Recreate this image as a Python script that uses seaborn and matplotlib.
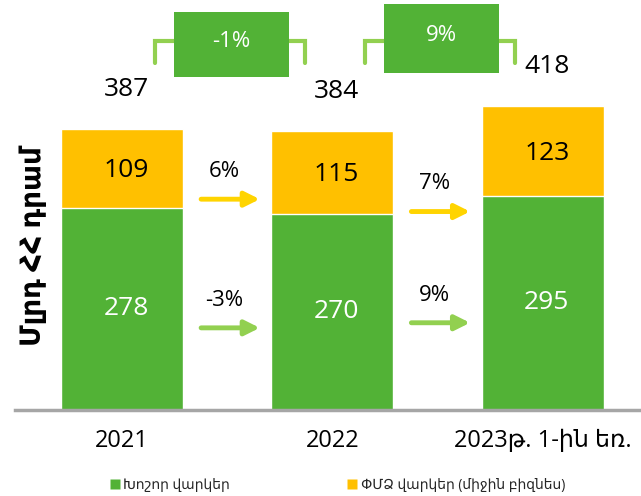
import matplotlib
matplotlib.use("Agg")
import matplotlib.pyplot as plt
from matplotlib.lines import Line2D
from matplotlib.patches import Rectangle
import seaborn as sns

# data (billion AMD)
years = ["2021", "2022", "2023թ. 1-ին եռ."]
large_loans = [278, 270, 295]
sme_loans = [109, 115, 123]
totals = [387, 384, 418]

green = "#52B236"
yellow = "#FFC000"
light_green = "#92D050"
arrow_yellow = "#FFD400"

sns.set_theme(style="white")
plt.rcParams["font.family"] = ["Open Sans", "DejaVu Sans"]

fig = plt.figure(figsize=(6.41, 4.96), dpi=100)
ax = fig.add_axes([15 / 641, 86 / 496, 626 / 641, 410 / 496])

# stacked bars: totals in yellow, large loans drawn over them in green
sns.barplot(x=years, y=totals, color=yellow, width=0.58, saturation=1,
            edgecolor="white", linewidth=1, ax=ax)
sns.barplot(x=years, y=large_loans, color=green, width=0.58, saturation=1,
            edgecolor="white", linewidth=1, ax=ax)

ax.set_xlim(-0.509, 2.468)
ax.set_ylim(0, 564)

# segment labels
for i in range(len(years)):
    ax.text(i + 0.02, large_loans[i] / 2, str(large_loans[i]), color="white",
            ha="center", va="center", fontsize=19)
    ax.text(i + 0.02, (large_loans[i] + totals[i]) / 2 - 3, str(sme_loans[i]),
            color="black", ha="center", va="center", fontsize=19)
    ax.text(i + 0.02, totals[i] + 54, str(totals[i]), color="black",
            ha="center", va="center", fontsize=19)

# growth arrows between bars
arrow_y_sme = [290, 273]
arrow_y_large = [113, 120]
for i in range(len(years) - 1):
    x0, x1 = i + 0.376, i + 0.655
    g_sme = round((sme_loans[i + 1] / sme_loans[i] - 1) * 100)
    g_large = round((large_loans[i + 1] / large_loans[i] - 1) * 100)
    for y, g, c in [(arrow_y_sme[i], g_sme, arrow_yellow),
                    (arrow_y_large[i], g_large, light_green)]:
        ax.annotate("", xy=(x1, y), xytext=(x0, y),
                    arrowprops=dict(arrowstyle="-|>", color=c, lw=3.5,
                                    mutation_scale=22, shrinkA=0, shrinkB=0))
        ax.text((x0 + x1) / 2 - 0.03, y + 38, f"{g}%", ha="center",
                va="center", fontsize=16, color="black")

# total growth boxes with brackets
box_y = [503, 511]
box_h = [89, 94]
for i in range(len(years) - 1):
    g_tot = round((totals[i + 1] / totals[i] - 1) * 100)
    cx = i + 0.52
    lx, rx = i + 0.157, i + 0.87
    ax.plot([lx, lx, rx, rx], [478, 507, 507, 478], color=light_green,
            lw=3, solid_joinstyle="miter", zorder=2)
    ax.add_patch(Rectangle((cx - 0.275, box_y[i] - box_h[i] / 2), 0.55,
                           box_h[i], facecolor=green, edgecolor="none",
                           zorder=3))
    ax.text(cx, box_y[i] + 4, f"{g_tot}%", color="white", ha="center",
            va="center", fontsize=16, zorder=4)

# axes styling
for s in ["top", "right", "left"]:
    ax.spines[s].set_visible(False)
ax.spines["bottom"].set_color("#A6A6A6")
ax.spines["bottom"].set_linewidth(2.5)
ax.set_yticks([])
ax.set_xticks(range(len(years)))
ax.set_xticklabels(years, fontsize=17, color="black")
ax.tick_params(axis="x", length=0, pad=14)
ax.set_xlabel("")
ax.set_ylabel("Մլրդ ՀՀ դրամ", fontsize=20, fontweight="bold", color="black")
ax.yaxis.set_label_coords(0.052, 0.40)

handles = [
    Line2D([], [], marker="s", color="none", markerfacecolor=green,
           markeredgecolor="none", markersize=7, label="Խոշոր վարկեր"),
    Line2D([], [], marker="s", color="none", markerfacecolor=yellow,
           markeredgecolor="none", markersize=7,
           label="ՓՄՁ վարկեր (միջին բիզնես)"),
]
fig.legend(handles=handles, loc="center", bbox_to_anchor=(0.527, 0.022),
           ncol=2, frameon=False, fontsize=10, handlelength=0.6,
           handletextpad=0.3, columnspacing=8.5)

fig.savefig("out.png", dpi=100)
